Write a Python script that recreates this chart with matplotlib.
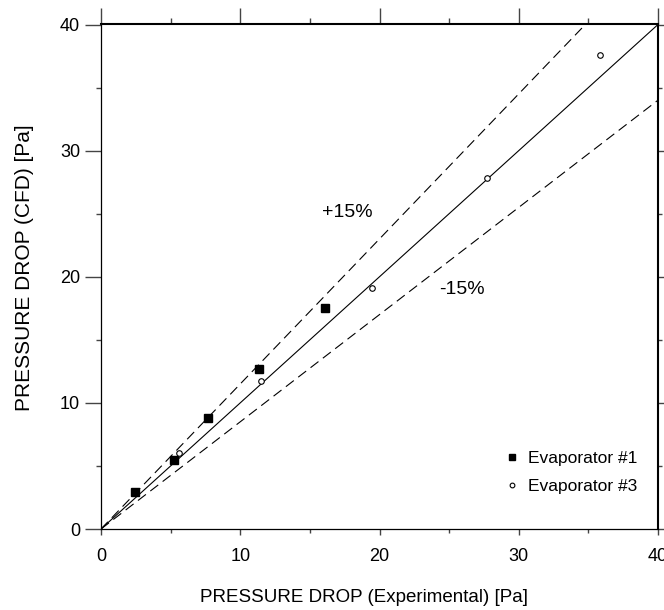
import matplotlib
matplotlib.use("Agg")
import matplotlib.pyplot as plt
import numpy as np
from matplotlib.ticker import MultipleLocator, NullFormatter

plt.rcParams['font.family'] = ['Liberation Sans', 'DejaVu Sans']

evap1_x = [2.46, 5.27, 7.68, 11.35, 16.09]
evap1_y = [2.96, 5.50, 8.78, 12.66, 17.53]
evap3_x = [5.63, 11.49, 19.46, 27.74, 35.83]
evap3_y = [6.00, 11.76, 19.14, 27.83, 37.60]

xticks = [0, 10, 20, 30, 40]
yticks = [0, 10, 20, 30, 40]

fig = plt.figure(figsize=(6.64, 6.10), dpi=100)
L, R, T, B = 101, 658, 24.5, 529
ax = fig.add_axes([L/664, (610-B)/610, (R-L)/664, (B-T)/610])

xx = np.array([0, 40])
ax.plot(xx, xx, color='black', lw=0.8)
ax.plot(xx, 1.15*xx, color='black', lw=0.8, dashes=(9, 5))
ax.plot(xx, 0.85*xx, color='black', lw=0.8, dashes=(9, 5))

ax.plot(evap1_x, evap1_y, 's', color='black', ms=5.5, label='Evaporator #1', zorder=3)
ax.plot(evap3_x, evap3_y, 'o', mfc='white', mec='black', mew=0.8, ms=4, label='Evaporator #3', zorder=3)

ax.text(17.7, 25.1, '+15%', fontsize=14, ha='center', va='center')
ax.text(25.9, 19.0, '-15%', fontsize=14, ha='center', va='center')

ax.set_xlim(0, 40)
ax.set_ylim(0, 40)
ax.set_xticks(xticks)
ax.set_yticks(yticks)
ax.xaxis.set_minor_locator(MultipleLocator(5))
ax.yaxis.set_minor_locator(MultipleLocator(5))
tc = '#444444'
ax.tick_params(which='both', direction='out', top=False, right=False, labelsize=13, width=1, color=tc)
ax.tick_params(axis='x', which='major', length=4.5, pad=9)
ax.tick_params(axis='x', which='minor', length=3)
ax.tick_params(axis='y', which='major', length=11.5, pad=3.5)
ax.tick_params(axis='y', which='minor', length=3.6)

secx = ax.secondary_xaxis('top')
secx.set_xticks(xticks)
secx.xaxis.set_minor_locator(MultipleLocator(5))
secx.xaxis.set_major_formatter(NullFormatter())
secx.tick_params(which='both', direction='out', width=1, color=tc)
secx.tick_params(which='major', length=11.5)
secx.tick_params(which='minor', length=4.3)
secx.spines['top'].set_linewidth(1.5)

secy = ax.secondary_yaxis('right')
secy.set_yticks(yticks)
secy.yaxis.set_minor_locator(MultipleLocator(5))
secy.yaxis.set_major_formatter(NullFormatter())
secy.tick_params(which='both', direction='out', width=1, color=tc)
secy.tick_params(which='major', length=4.5)
secy.tick_params(which='minor', length=3)
secy.spines['right'].set_linewidth(1.5)

for s in ['left', 'bottom']:
    ax.spines[s].set_linewidth(0.9)
for s in ['top', 'right']:
    ax.spines[s].set_visible(False)

ax.set_xlabel('PRESSURE DROP (Experimental) [Pa]', fontsize=13.5, va='center')
ax.xaxis.set_label_coords((364 - L)/(R - L), (B - 597)/(B - T))
ax.set_ylabel('PRESSURE DROP (CFD) [Pa]', fontsize=15, va='center')
ax.yaxis.set_label_coords((25 - L)/(R - L), (B - 268)/(B - T))

leg = ax.legend(loc='center left', bbox_to_anchor=((505 - L)/(R - L), (B - 472.5)/(B - T)),
                frameon=False, fontsize=12.5, borderpad=0, borderaxespad=0,
                handlelength=0.8, handletextpad=0.52, labelspacing=0.73, markerscale=0.85)

fig.savefig('out.png', dpi=100)
